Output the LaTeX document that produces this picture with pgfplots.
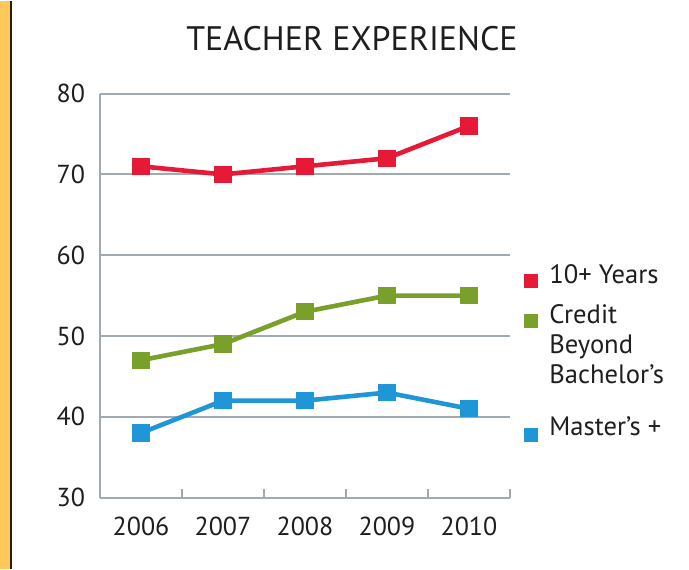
\documentclass[border=0pt]{standalone}
\usepackage{fontspec}
\setmainfont{PT Sans}
\usepackage{pgfplots}
\pgfplotsset{compat=1.18}
\definecolor{tenred}{RGB}{230,25,55}
\definecolor{credgreen}{RGB}{120,160,42}
\definecolor{mastblue}{RGB}{30,150,215}
\definecolor{axgray}{RGB}{160,170,178}
\definecolor{ink}{RGB}{30,30,30}
\definecolor{sideorange}{RGB}{255,200,90}
\pgfplotsset{
  serie/.style={line width=2.3pt, mark=square*, mark size=3.2pt, mark options={solid}},
}
\begin{document}
\begin{tikzpicture}[x=1pt,y=1pt]
\path (0,0) rectangle (344.5,284);
\fill[sideorange] (0,0) rectangle (5.5,284);
\draw[ink, line width=0.6pt] (5.5,0) -- (5.5,284);
\node[anchor=base, font=\fontsize{17}{20}\selectfont, text=ink] at (176,259) {TEACHER EXPERIENCE};
\begin{axis}[at={(50pt,35.5pt)}, anchor=south west, scale only axis,
  width=205pt, height=202pt, xmin=-0.5, xmax=4.5, ymin=30, ymax=80,
  axis lines=left, axis line style={-, axgray, line width=1.1pt},
  xtick={0,1,2,3,4}, xticklabels={2006,2007,2008,2009,2010},
  minor xtick={0.5,1.5,2.5,3.5,4.5},
  ytick={30,40,50,60,70,80},
  major tick length=0pt, minor tick length=4.5pt, tick align=inside,
  minor x tick style={axgray, line width=1.1pt},
  ymajorgrids, major grid style={axgray, line width=1pt},
  tick label style={font=\fontsize{13}{15}\selectfont, text=ink},
  /pgf/number format/assume math mode=true,
  yticklabel style={xshift=-4pt},
  xticklabel style={yshift=-6pt},
  clip=false]
\addplot[serie, tenred] coordinates {(0,71) (1,70) (2,71) (3,72) (4,76)};
\addplot[serie, credgreen] coordinates {(0,47) (1,49) (2,53) (3,55) (4,55)};
\addplot[serie, mastblue] coordinates {(0,38) (1,42) (2,42) (3,43) (4,41)};
\end{axis}
\begin{scope}[font=\fontsize{13.3}{15}\selectfont]
\fill[tenred] (262,140.5) rectangle (269,147.5);
\fill[credgreen] (262,120.5) rectangle (269,127.5);
\fill[mastblue] (262,63.5) rectangle (269,70.5);
\node[anchor=base west, inner sep=0pt, text=ink] at (274.5,142.5) {10+ Years};
\node[anchor=base west, inner sep=0pt, text=ink] at (274.5,122.5) {Credit};
\node[anchor=base west, inner sep=0pt, text=ink] at (274.5,107.5) {Beyond};
\node[anchor=base west, inner sep=0pt, text=ink] at (274.5,92.5) {Bachelor’s};
\node[anchor=base west, inner sep=0pt, text=ink] at (274.5,66.5) {Master’s +};
\end{scope}
\end{tikzpicture}
\end{document}
